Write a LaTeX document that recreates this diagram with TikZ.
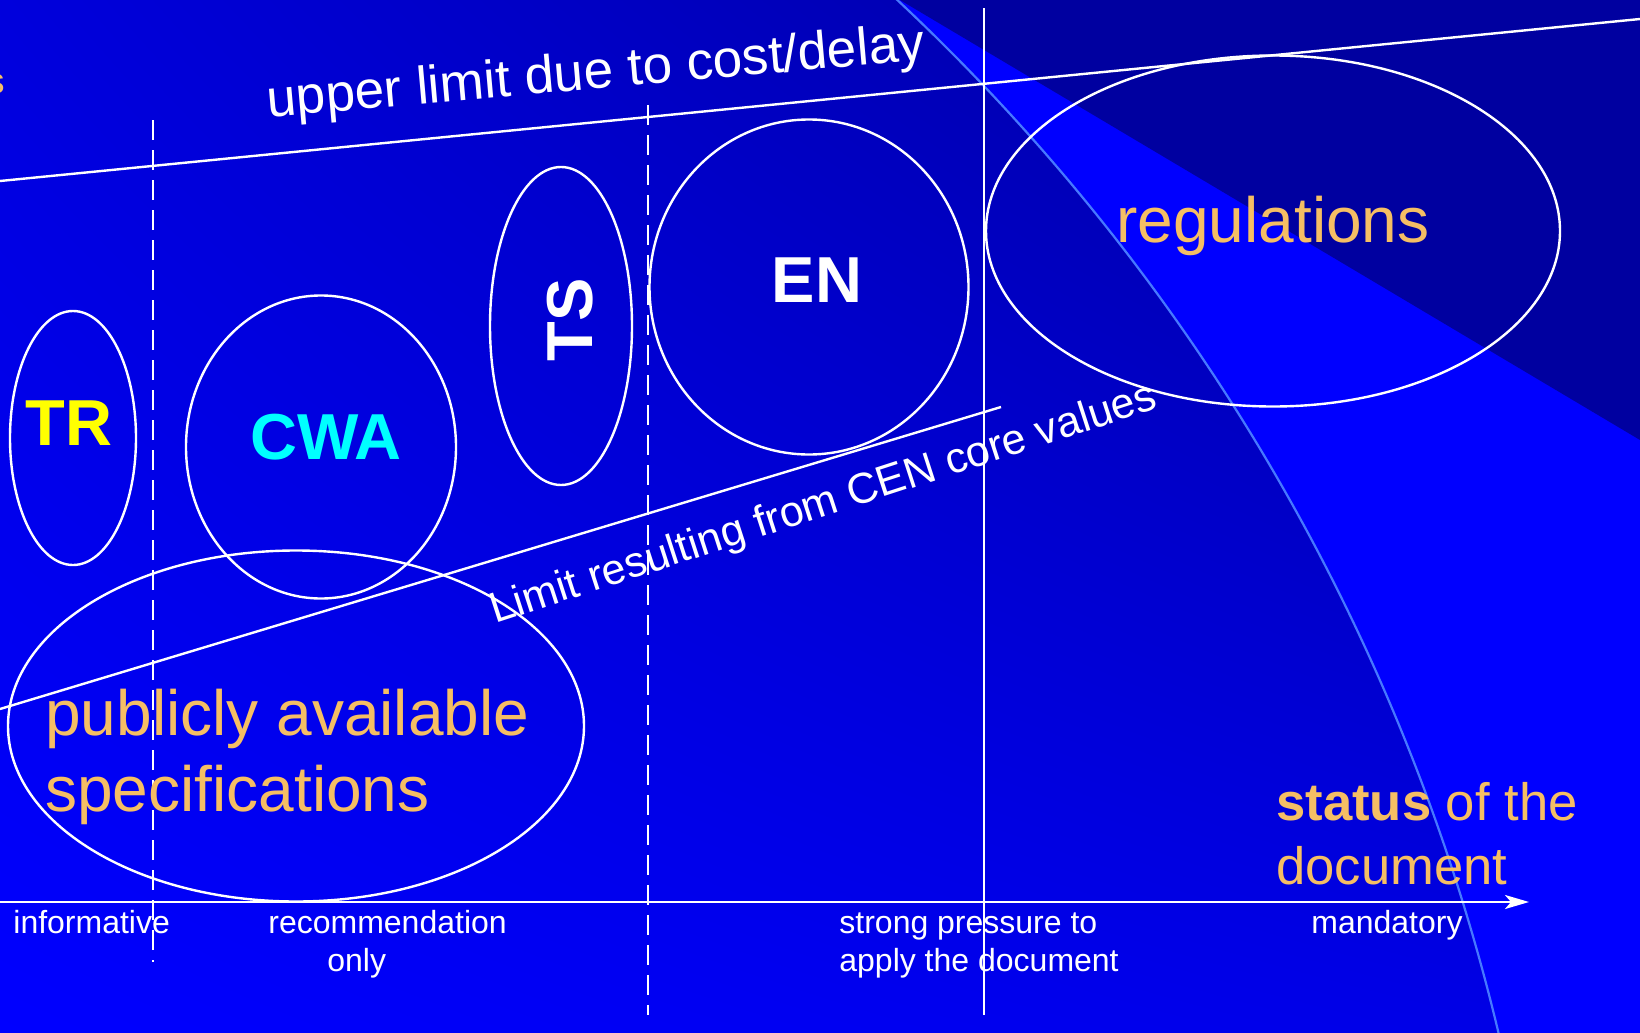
\documentclass[tikz,border=0pt]{standalone}
\usepackage{fontspec}
\setmainfont{Liberation Sans}
\usetikzlibrary{%
  positioning,
  shapes.geometric,
  arrows.meta,
  shadings,
}

\definecolor{slideblue}{RGB}{0,0,255}
\definecolor{slidenavy}{RGB}{0,0,160}
\definecolor{arcblue}{RGB}{70,120,255}
\definecolor{docorange}{RGB}{245,190,100}
\definecolor{trgold}{RGB}{255,255,0}
\definecolor{cwacyan}{RGB}{0,255,255}
\definecolor{diskul}{RGB}{0,0,220}
\definecolor{diskur}{RGB}{0,0,150}
\definecolor{diskll}{RGB}{0,0,255}
\definecolor{disklr}{RGB}{0,0,228}

\begin{document}
\begin{tikzpicture}[
    x=0.5pt, y=-0.5pt,
    every text node part/.style={align=left},
    bubble/.style={
      % only the outline, no filling
      ellipse,
      draw=white,
      line width=1.2pt,
      inner sep=0pt,
    },
    tag/.style={font=\fontsize{32.5}{38}\selectfont\bfseries},
    axislabel/.style={
      text=white,
      font=\fontsize{16}{19}\selectfont,
      inner sep=0pt,
      anchor=base west,
    },
    limitline/.style={draw=white, line width=1.2pt},
    divider/.style={draw=white, line width=1.2pt, dash pattern=on 10pt off 5pt},
  ]

  \useasboundingbox (0,0) rectangle (1640,1033);
  \clip (0,0) rectangle (1640,1033);

  % the slide background
  \fill[slideblue] (0,0) rectangle (1640,1033);
  \fill[slidenavy] (900,0) -- (1640,0) -- (1640,440) -- cycle;
  \begin{scope}
    \clip (-521,1516) circle [radius=2076];
    \shade[upper left=diskul, upper right=diskur,
           lower left=diskll, lower right=disklr] (0,0) rectangle (1640,1033);
  \end{scope}
  \draw[arcblue, line width=1.1pt] (-521,1516) circle [radius=2076];

  % the two limits
  \coordinate (costleft) at (0,181);
  \coordinate (costright) at (1640,19);
  \draw[limitline] (costleft) -- (costright);
  \coordinate (coreleft) at (0,709);
  \coordinate (coreright) at (1001,407);
  \draw[limitline] (coreleft) -- (coreright);

  % borders between the kinds of document
  \draw[divider] (153,120) -- (153,962);
  \draw[divider] (648,105) -- (648,1015);
  \draw[white, line width=1pt] (984,8) -- (984,1015);

  % status axis
  \coordinate (origin) at (0,902);
  \coordinate (axisend) at (1529,902);
  \draw[white, line width=1.2pt, -{Stealth[length=12pt, width=7pt, inset=3pt]}]
        (origin) -- (axisend);

  \node[bubble, minimum width=63pt, minimum height=127pt] (tr) at (73,438) {};
  \node[bubble, minimum width=135pt, minimum height=151.5pt] (cwa) at (321,447) {};
  \node[bubble, minimum width=71pt, minimum height=159pt] (ts) at (561,326) {};
  \node[bubble, minimum width=159.5pt, minimum height=167.5pt] (en) at (809,287) {};
  \node[bubble, minimum width=287pt, minimum height=175.5pt] (regulations) at (1273,231) {};
  \node[bubble, minimum width=288pt, minimum height=175.5pt] (pas) at (296,726) {};

  \node[tag, text=trgold] (trlabel) at (69,423) {TR};
  \node[tag, text=cwacyan] (cwalabel) at (326,437) {CWA};
  \node[tag, text=white, rotate=90] (tslabel) at (570,320) {TS};
  \node[tag, text=white] (enlabel) at (817,280) {EN};

  \node[text=docorange, font=\fontsize{32}{38}\selectfont] (reglabel)
        at (1273,226) {regulations};
  \node[text=docorange, font=\fontsize{32}{38}\selectfont,
        anchor=base west, inner sep=0pt] (paslabel)
        at (45,811) {publicly available\\specifications};
  \node[text=docorange, font=\fontsize{26.3}{32}\selectfont,
        anchor=base west, inner sep=0pt] (status)
        at (1276,884) {\textbf{status} of the\\document};
  \node[text=docorange, font=\fontsize{18}{22}\selectfont,
        anchor=base east, inner sep=0pt] (cutoff) at (5,93) {s};

  \node[text=white, font=\fontsize{26.5}{32}\selectfont, rotate=5] (costlabel)
        at (596,75) {upper limit due to cost/delay};
  \node[text=white, font=\fontsize{21.5}{26}\selectfont, rotate=18] (corelabel)
        at (824,505) {Limit resulting from CEN core values};

  \node[axislabel] (informative) at (13,933) {informative};
  \node[axislabel] (recommend) at (268,971) {recommendation\\\hspace*{29.5pt}only};
  \node[axislabel] (pressure) at (839,971) {strong pressure to\\apply the document};
  \node[axislabel] (mandatory) at (1311,933) {mandatory};
\end{tikzpicture}
\end{document}
